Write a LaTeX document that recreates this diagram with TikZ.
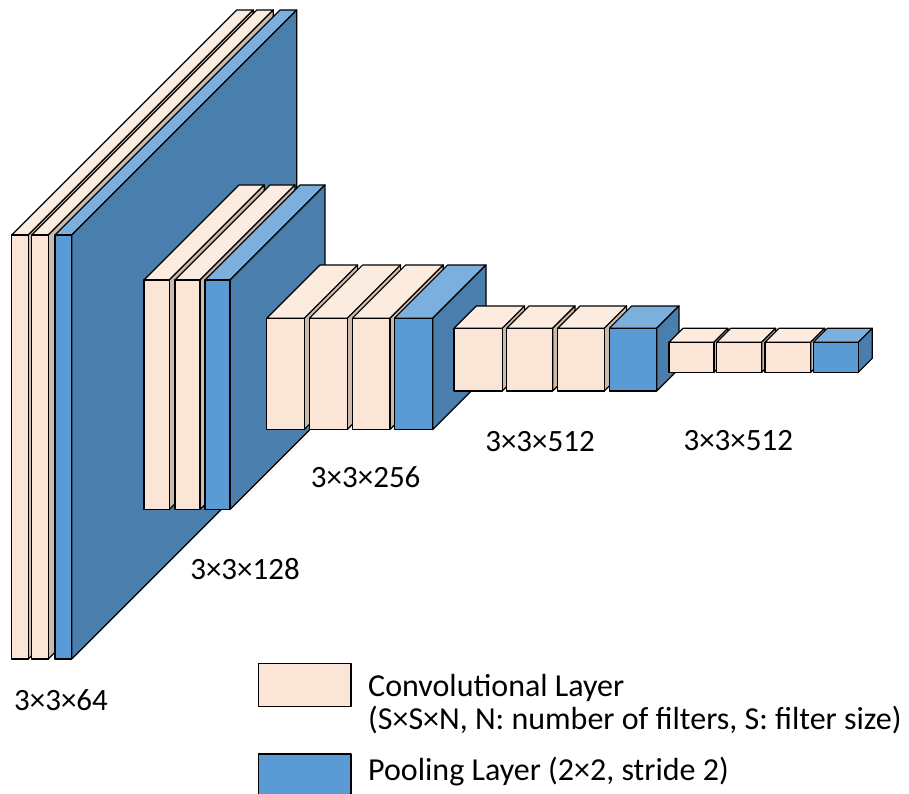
\documentclass[tikz,border=0pt]{standalone}
\usepackage{fontspec}
\setmainfont{Carlito}
\definecolor{convfront}{HTML}{FBE5D6}
\definecolor{convtop}{HTML}{FCEBDF}
\definecolor{convside}{HTML}{CBBBAE}
\definecolor{poolfront}{HTML}{5B9BD5}
\definecolor{pooltop}{HTML}{7DAFDD}
\definecolor{poolside}{HTML}{4A7EAC}
\tikzset{
  facebox/.style={draw=black, line width=1.2pt, line join=round},
  dimlabel/.style={inner sep=0pt, font=\fontsize{31}{36}\selectfont},
  legendtext/.style={inner sep=0pt, anchor=base west, font=\fontsize{32}{38}\selectfont},
}
% #1 x left, #2 x right, #3 y top, #4 y bottom, #5 depth, #6 conv/pool
\newcommand{\layerbox}[6]{%
  \filldraw[facebox, fill=#6top] ({#1},{#3}) -- ({#1+#5},{#3-#5}) -- ({#2+#5},{#3-#5}) -- ({#2},{#3}) -- cycle;
  \filldraw[facebox, fill=#6side] ({#2},{#3}) -- ({#2+#5},{#3-#5}) -- ({#2+#5},{#4-#5}) -- ({#2},{#4}) -- cycle;
  \filldraw[facebox, fill=#6front] ({#1},{#3}) rectangle ({#2},{#4});
}
\begin{document}
\begin{tikzpicture}[x=1pt, y=-1pt]
\useasboundingbox (0,0) rectangle (909,794);
\clip (0,0) rectangle (909,794);
% block 1
\layerbox{11.7}{28.3}{235}{659}{225}{conv}
\layerbox{31.7}{48.3}{235}{659}{225}{conv}
\layerbox{55}{71.7}{235}{659}{225}{pool}
% block 2
\layerbox{144}{169.3}{280}{509.5}{95}{conv}
\layerbox{175}{200}{280}{509.5}{95}{conv}
\layerbox{205}{230}{280}{509.5}{95}{pool}
% block 3
\layerbox{266.7}{304.3}{318.3}{429.5}{53.3}{conv}
\layerbox{309.3}{347.3}{318.3}{429.5}{53.3}{conv}
\layerbox{352.3}{390}{318.3}{429.5}{53.3}{conv}
\layerbox{394.3}{432.7}{318.3}{429.5}{53.3}{pool}
% block 4
\layerbox{454}{502.3}{328.3}{391}{22.3}{conv}
\layerbox{506.7}{552.7}{328.3}{391}{22.3}{conv}
\layerbox{557.7}{604.3}{328.3}{391}{22.3}{conv}
\layerbox{609.3}{656.7}{328.3}{391}{22.3}{pool}
% block 5
\layerbox{669}{714}{342.3}{372.3}{14}{conv}
\layerbox{716.7}{761.7}{342.3}{372.3}{14}{conv}
\layerbox{765}{810.7}{342.3}{372.3}{14}{conv}
\layerbox{813.3}{858.3}{342.3}{372.3}{14}{pool}
% labels
\node[dimlabel] (l64) at (61,700) {3×3×64};
\node[dimlabel] (l128) at (245,569.3) {3×3×128};
\node[dimlabel] (l256) at (365.7,477.3) {3×3×256};
\node[dimlabel] (l512a) at (540,441.7) {3×3×512};
\node[dimlabel] (l512b) at (738.3,441) {3×3×512};
% legend
\filldraw[facebox, fill=convfront] (258.3,663.3) rectangle (351,706.7);
\filldraw[facebox, fill=poolfront] (258.3,754) rectangle (351,800);
\node[legendtext] (lc1) at (368,696) {Convolutional Layer};
\node[legendtext] (lc2) at (368,729) {(S×S×N, N: number of filters, S: filter size)};
\node[legendtext] (lp) at (368,780) {Pooling Layer (2×2, stride 2)};
\end{tikzpicture}
\end{document}
